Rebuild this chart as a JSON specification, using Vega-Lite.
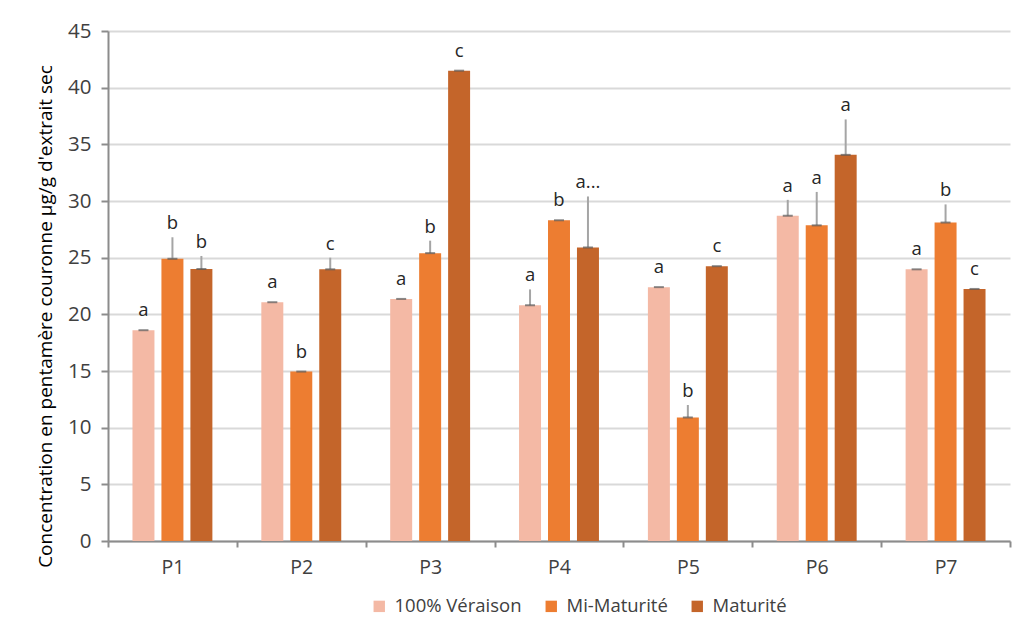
{
  "$schema": "https://vega.github.io/schema/vega-lite/v6.json",
  "width": 902,
  "height": 510,
  "autosize": {"type": "none"},
  "padding": {"left": 108, "top": 31, "right": 10, "bottom": 100},
  "background": "white",
  "config": {
    "view": {"stroke": null},
    "font": "Open Sans",
    "axis": {"labelFont": "Open Sans", "titleFont": "Open Sans"},
    "legend": {"labelFont": "Open Sans"}
  },
  "data": {
    "values": [
      {"p": "P1", "s": "100% Véraison", "v": 18.6, "hi": 18.6, "l": "a"},
      {"p": "P1", "s": "Mi-Maturité", "v": 24.9, "hi": 26.8, "l": "b"},
      {"p": "P1", "s": "Maturité", "v": 24.0, "hi": 25.15, "l": "b"},
      {"p": "P2", "s": "100% Véraison", "v": 21.07, "hi": 21.07, "l": "a"},
      {"p": "P2", "s": "Mi-Maturité", "v": 14.95, "hi": 14.95, "l": "b"},
      {"p": "P2", "s": "Maturité", "v": 23.97, "hi": 25.0, "l": "c"},
      {"p": "P3", "s": "100% Véraison", "v": 21.36, "hi": 21.36, "l": "a"},
      {"p": "P3", "s": "Mi-Maturité", "v": 25.4, "hi": 26.5, "l": "b"},
      {"p": "P3", "s": "Maturité", "v": 41.5, "hi": 41.5, "l": "c"},
      {"p": "P4", "s": "100% Véraison", "v": 20.8, "hi": 22.2, "l": "a"},
      {"p": "P4", "s": "Mi-Maturité", "v": 28.3, "hi": 28.3, "l": "b"},
      {"p": "P4", "s": "Maturité", "v": 25.9, "hi": 30.4, "l": "a..."},
      {"p": "P5", "s": "100% Véraison", "v": 22.4, "hi": 22.4, "l": "a"},
      {"p": "P5", "s": "Mi-Maturité", "v": 10.9, "hi": 12.0, "l": "b"},
      {"p": "P5", "s": "Maturité", "v": 24.25, "hi": 24.25, "l": "c"},
      {"p": "P6", "s": "100% Véraison", "v": 28.7, "hi": 30.1, "l": "a"},
      {"p": "P6", "s": "Mi-Maturité", "v": 27.85, "hi": 30.8, "l": "a"},
      {"p": "P6", "s": "Maturité", "v": 34.07, "hi": 37.2, "l": "a"},
      {"p": "P7", "s": "100% Véraison", "v": 23.97, "hi": 23.97, "l": "a"},
      {"p": "P7", "s": "Mi-Maturité", "v": 28.1, "hi": 29.7, "l": "b"},
      {"p": "P7", "s": "Maturité", "v": 22.24, "hi": 22.24, "l": "c"}
    ]
  },
  "encoding": {
    "x": {
      "field": "p",
      "type": "nominal",
      "scale": {"paddingInner": 0, "paddingOuter": 0},
      "axis": {
        "title": null,
        "labelAngle": 0,
        "labelFontSize": 19.5,
        "labelColor": "#404040",
        "labelPadding": 11,
        "domainColor": "#8C8C8C",
        "domainWidth": 2,
        "tickColor": "#8C8C8C",
        "tickWidth": 2,
        "tickSize": 6,
        "tickBand": "extent",
        "grid": false
      }
    },
    "xOffset": {
      "field": "s",
      "type": "nominal",
      "sort": ["100% Véraison", "Mi-Maturité", "Maturité"],
      "scale": {"paddingInner": 0.241, "paddingOuter": 0.845}
    }
  },
  "layer": [
    {
      "mark": {"type": "bar"},
      "encoding": {
        "y": {
          "field": "v",
          "type": "quantitative",
          "scale": {"domain": [0, 45], "nice": false},
          "axis": {
            "title": "Concentration en pentamère couronne µg/g d'extrait sec",
            "titleFontSize": 19,
            "titleFontWeight": "normal",
            "titleColor": "#000000",
            "titlePadding": 12,
            "titleY": 285,
            "values": [0, 5, 10, 15, 20, 25, 30, 35, 40, 45],
            "labelFontSize": 20.5,
            "labelColor": "#404040",
            "labelPadding": 10,
            "domainColor": "#8C8C8C",
            "domainWidth": 2,
            "tickColor": "#8C8C8C",
            "tickWidth": 2,
            "tickSize": 7,
            "gridColor": "#D9D9D9",
            "gridWidth": 2
          }
        },
        "color": {
          "field": "s",
          "type": "nominal",
          "sort": ["100% Véraison", "Mi-Maturité", "Maturité"],
          "scale": {
            "domain": ["100% Véraison", "Mi-Maturité", "Maturité"],
            "range": ["#F4B9A5", "#ED7D31", "#C4652A"]
          },
          "legend": {
            "title": null,
            "orient": "none",
            "legendX": 262,
            "legendY": 566,
            "direction": "horizontal",
            "symbolType": "square",
            "symbolSize": 130,
            "symbolStrokeWidth": 0,
            "labelFontSize": 18.5,
            "labelColor": "#404040",
            "labelOffset": 6,
            "columnPadding": 20
          }
        }
      }
    },
    {
      "transform": [{"filter": "datum.hi > datum.v"}],
      "mark": {"type": "rule", "color": "#A5A5A5", "strokeWidth": 2},
      "encoding": {
        "y": {"field": "v", "type": "quantitative"},
        "y2": {"field": "hi"}
      }
    },
    {
      "mark": {"type": "tick", "color": "#595959", "size": 10, "thickness": 2},
      "encoding": {
        "y": {"field": "v", "type": "quantitative"}
      }
    },
    {
      "transform": [{"filter": "datum.hi > datum.v"}],
      "mark": {"type": "text", "baseline": "alphabetic", "dy": -8, "fontSize": 18.5, "color": "#262626"},
      "encoding": {
        "y": {"field": "hi", "type": "quantitative"},
        "text": {"field": "l"}
      }
    },
    {
      "transform": [{"filter": "datum.hi <= datum.v"}],
      "mark": {"type": "text", "baseline": "alphabetic", "dy": -14, "fontSize": 18.5, "color": "#262626"},
      "encoding": {
        "y": {"field": "hi", "type": "quantitative"},
        "text": {"field": "l"}
      }
    }
  ]
}
